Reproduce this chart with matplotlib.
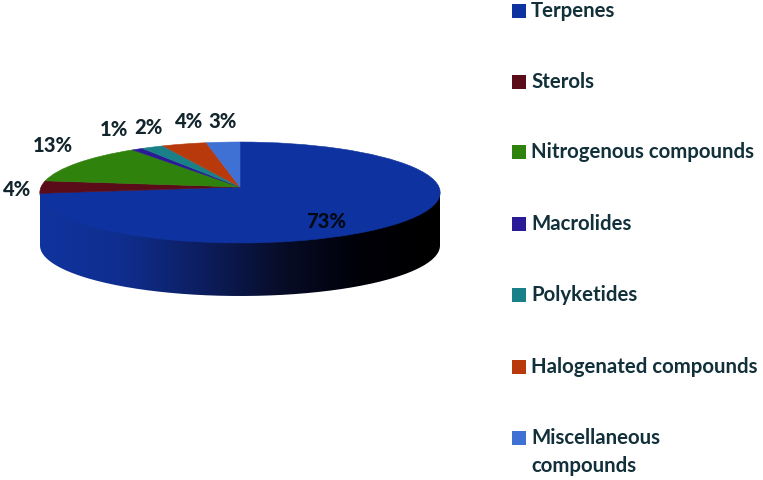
import numpy as np
from matplotlib import pyplot as plt
from matplotlib.path import Path
from matplotlib.patches import PathPatch
from matplotlib.transforms import Transform

categories = ["Terpenes", "Sterols", "Nitrogenous compounds", "Macrolides",
              "Polyketides", "Halogenated compounds", "Miscellaneous\ncompounds"]
values = [73, 4, 13, 1, 2, 4, 3]
colors = ["#0e33a0", "#5a0c18", "#2f820c", "#2a1a96", "#1a8088", "#b83a0c", "#3f70d4"]

plt.rcParams['font.family'] = ['Lato', 'DejaVu Sans']
W, H = 763, 480
fig = plt.figure(figsize=(W / 100, H / 100), dpi=100)

# whole figure in pixel units, y pointing down
ax = fig.add_axes([0, 0, 1, 1])

# centre of the pie and the tilt
cx, apex_y, b, a, k = 240, 187, 199, 49.9, 0.109
ell_y, rx, ry, depth = 192.5, 200, 50.5, 53


class Tilt(Transform):
    # unit pie coordinates -> pixels, with some perspective so the back is smaller
    input_dims = output_dims = 2

    def transform_non_affine(self, xy):
        xy = np.asarray(xy)
        d = 1 + k * xy[:, 1]
        return np.column_stack([cx + b * xy[:, 0] / d, apex_y - a * xy[:, 1] / d])


wedges = ax.pie(values, colors=colors, startangle=90, counterclock=False,
                wedgeprops={"linewidth": 0.4})[0]
for w, c in zip(wedges, colors):
    w.set_edgecolor(c)
    w.set_transform(Tilt() + ax.transData)
    w.set_zorder(2)

ax.set_aspect("auto")
ax.set_xlim(0, W)
ax.set_ylim(H, 0)
ax.axis("off")

# side wall of the pie, blue on the left to black on the right
t = np.linspace(0, np.pi, 200)
xs = cx + rx * np.cos(t)
ys = ell_y + ry * np.sin(t)
wall = np.column_stack([np.r_[xs, xs[::-1]], np.r_[ys + depth, np.full(200, ell_y)]])
grad = np.array([[0.06, 0.2, 0.62], [0.06, 0.18, 0.56], [0.05, 0.12, 0.38],
                 [0.03, 0.05, 0.16], [0.0, 0.0, 0.03], [0.0, 0.0, 0.0]])
steps = np.linspace(0, 1, 256)
img = np.stack([np.interp(steps, np.linspace(0, 1, 6), grad[:, i]) for i in range(3)], axis=1)
im = ax.imshow(img[None, :, :], extent=[cx - rx, cx + rx, ell_y + ry + depth, ell_y - 5],
               aspect="auto", zorder=1)
clip = PathPatch(Path(wall), transform=ax.transData, fc="none", ec="none")
ax.add_patch(clip)
im.set_clip_path(clip)
ax.set_xlim(0, W)
ax.set_ylim(H, 0)

# percent labels
label_pos = [(326, 221), (17, 190), (53, 146), (114, 130), (148, 127), (189, 122), (223, 122)]
for v, p in zip(values, label_pos):
    ax.text(p[0], p[1], f"{v}%", ha="center", va="center", fontsize=14.5,
            color="#000814" if v == 73 else "#12242c", fontweight="black", zorder=5)

# legend drawn by hand to keep the wide spacing
legend_y = [11, 82, 152, 224, 295, 367, 438]
for name, c, y in zip(categories, colors, legend_y):
    ax.scatter([519], [y], marker="s", s=100, color=c, linewidths=0, zorder=5)
    lines = name.split("\n")
    for i, line in enumerate(lines):
        ax.text(531, y + 28 * i, line, va="center", fontsize=14.7, color="#12303a",
                fontweight="bold", zorder=5)

fig.savefig("out.png", dpi=100)
